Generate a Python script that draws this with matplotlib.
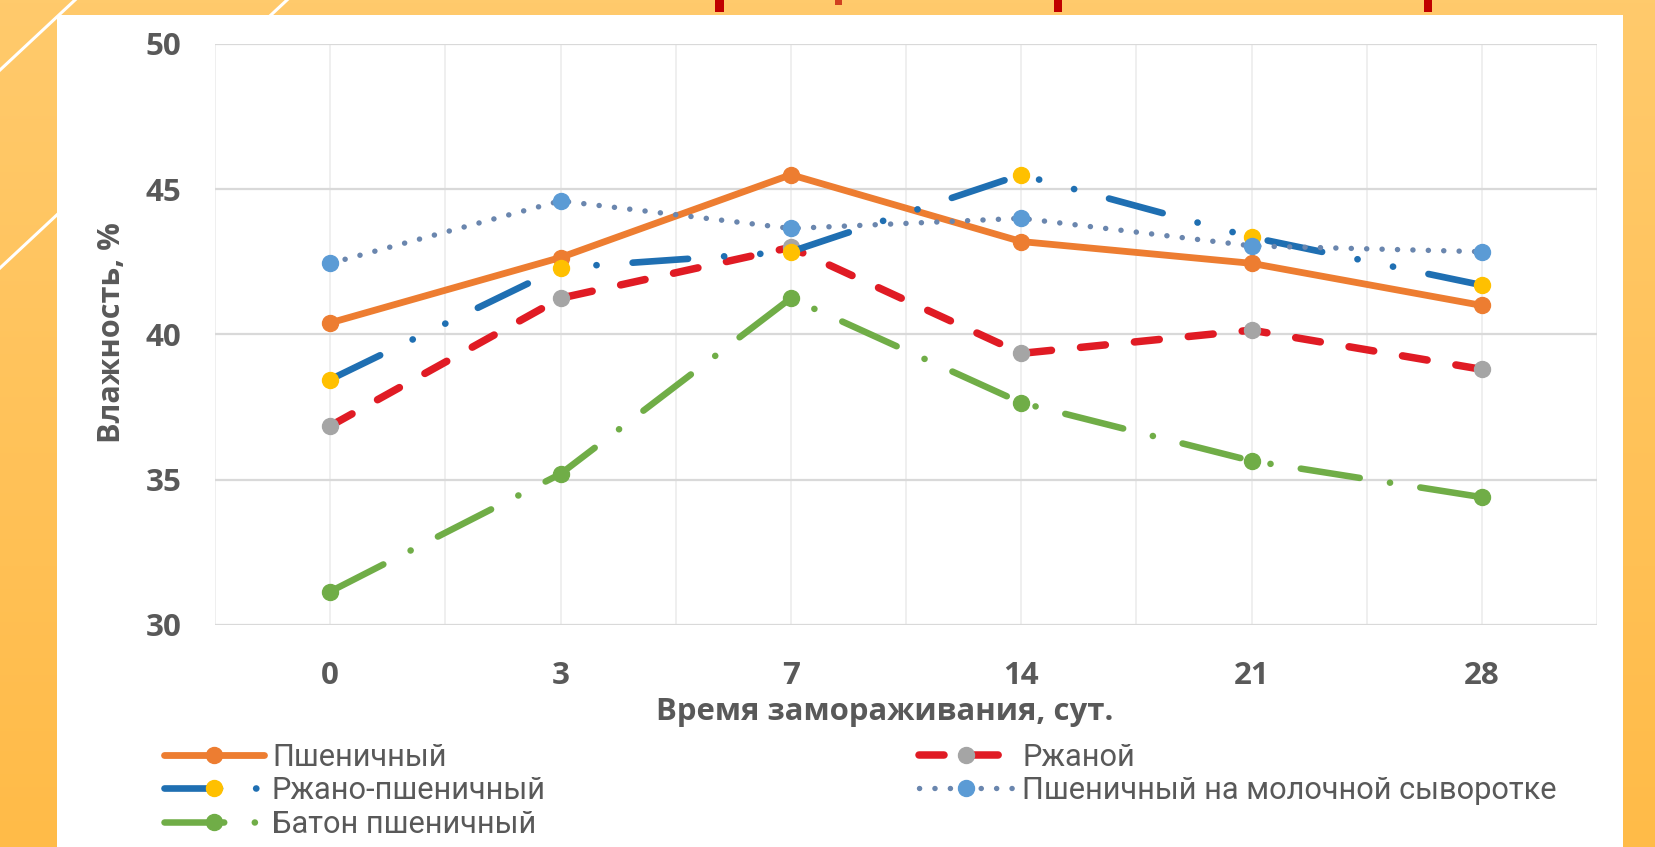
import numpy as np
import matplotlib
matplotlib.use('Agg')
import matplotlib.pyplot as plt
from matplotlib.lines import Line2D
from matplotlib.patches import Rectangle
from matplotlib.colors import LinearSegmentedColormap
from matplotlib.font_manager import FontProperties

# ---------------- data ----------------
categories = ['0', '3', '7', '14', '21', '28']
wheat = [40.4, 42.65, 45.5, 43.2, 42.45, 41.0]
rye = [36.85, 41.25, 43.0, 39.35, 40.15, 38.8]
rye_wheat = [38.45, 42.3, 42.85, 45.5, 43.35, 41.7]
whey_wheat = [42.45, 44.6, 43.65, 44.0, 43.05, 42.85]
baton = [31.15, 35.2, 41.25, 37.65, 35.65, 34.4]
series_names = ['Пшеничный', 'Ржаной', 'Ржано-пшеничный',
                'Пшеничный на молочной сыворотке', 'Батон пшеничный']
y_ticks = [30, 35, 40, 45, 50]
x_label = 'Время замораживания, сут.'
y_label = 'Влажность, %'

# ---------------- figure ----------------
W, H, DPI = 1655, 847, 100
plt.rcParams['lines.scale_dashes'] = False
fig = plt.figure(figsize=(W / DPI, H / DPI), dpi=DPI)
TXT = '#595959'


def fx(px):
    return px / W


def fy(py):
    return 1 - py / H


# background (orange slide with white panel)
bg = fig.add_axes([0, 0, 1, 1], zorder=-10)
cmap = LinearSegmentedColormap.from_list('o', ['#FFCA6C', '#FFBB48'])
bg.imshow(np.linspace(0, 1, 256).reshape(-1, 1), extent=[0, W, H, 0],
          cmap=cmap, aspect='auto', zorder=0)
bg.set_xlim(0, W)
bg.set_ylim(H, 0)
bg.axis('off')
bg.plot([0, 75], [70, 0], color='white', lw=2.2, zorder=1)
bg.plot([0, 287], [268, 0], color='white', lw=2.2, zorder=1)
bg.add_patch(Rectangle((57, 15), 1566, 840, facecolor='white', edgecolor='none', zorder=2))
for (rx, rw, rh, rc) in [(715, 9, 12, '#C00000'), (835, 7, 5, '#D04020'),
                         (1054, 8, 12, '#C00000'), (1424, 8, 12, '#C00000')]:
    bg.add_patch(Rectangle((rx, 0), rw, rh, facecolor=rc, edgecolor='none', zorder=3))

# main axes
ax = fig.add_axes([fx(215), fy(625), (1597 - 215) / W, (625 - 44) / H])
ax.patch.set_alpha(0)
x = np.arange(len(categories))
ax.set_xlim(x[0] - 0.5, x[-1] + 0.5)
ax.set_ylim(y_ticks[0], y_ticks[-1])
for s in ax.spines.values():
    s.set_visible(False)
for v in np.arange(x[0] - 0.5, x[-1] + 0.51, 0.5):
    ax.axvline(v, color='#ececec', lw=1.2, zorder=0)
for v in y_ticks:
    ax.axhline(v, color='#d9d9d9', lw=1.6, zorder=1)

ax.set_xticks(x, categories)
ax.set_yticks(y_ticks)
ax.tick_params(axis='both', length=0, colors=TXT)
ax.tick_params(axis='x', pad=26)
ax.tick_params(axis='y', pad=24)
for lab in ax.get_xticklabels() + ax.get_yticklabels():
    lab.set_fontfamily('Open Sans')
    lab.set_fontweight('bold')
    lab.set_fontsize(22.5)
    lab.set_color(TXT)

styles = [
    dict(color='#ED7D31', lw=4.9, mfc='#ED7D31', dashes=None),
    dict(color='#E01B24', lw=5.4, mfc='#A5A5A5', dashes=(18, 21)),
    dict(color='#1F6FB2', lw=4.8, mfc='#FFC000',
         dashes=(40, 26, 0.1, 26, 0.1, 26)),
    dict(color='#6A86AE', lw=3.9, mfc='#5B9BD5', dashes=(0.1, 11.0)),
    dict(color='#70AD47', lw=4.7, mfc='#70AD47', dashes=(43, 22, 0.1, 22)),
]
data = [wheat, rye, rye_wheat, whey_wheat, baton]
handles = []
for i, (vals, st, name) in enumerate(zip(data, styles, series_names)):
    kw = dict(color=st['color'], lw=st['lw'], marker='o', markersize=11.5,
              markerfacecolor=st['mfc'], markeredgecolor=st['mfc'],
              solid_capstyle='round', dash_capstyle='round', zorder=3 + i)
    line, = ax.plot(x, vals, **kw)
    if st['dashes'] is not None:
        line.set_dashes(st['dashes'])
    h = Line2D([], [], **kw)
    if st['dashes'] is not None:
        h.set_dashes(st['dashes'])
    handles.append(h)

# axis titles
xl = fig.text(fx(885), fy(712), x_label, ha='center', va='center',
              family='Open Sans', weight='bold', size=17, color=TXT)
yl = fig.text(fx(112), fy(333), y_label, ha='center', va='center', rotation=90,
              family='Open Sans', weight='bold', size=17, color=TXT)

fig.canvas.draw()
r = fig.canvas.get_renderer()
for _ in range(3):
    w = xl.get_window_extent(r).width
    xl.set_fontsize(xl.get_fontsize() * 460 / w)
    hgt = yl.get_window_extent(r).height
    yl.set_fontsize(yl.get_fontsize() * 220 / hgt)

# legend font fit
leg_family = ['Liberation Sans Narrow', 'Roboto', 'DejaVu Sans']
tmp = fig.text(0, 0, series_names[3], family=leg_family, size=18)
for _ in range(3):
    w = tmp.get_window_extent(r).width
    tmp.set_fontsize(tmp.get_fontsize() * 535 / w)
leg_size = tmp.get_fontsize()
tmp.remove()
fp = FontProperties(family=leg_family, size=leg_size)

col1 = [0, 2, 4]
col2 = [1, 3]
hl = 72 / leg_size * 1.0     # ~100 px handle
htp = 6 / leg_size


def make_leg(idx, anchor, ls, hlen):
    lg = fig.legend([handles[i] for i in idx], [series_names[i] for i in idx],
                    loc='upper left', bbox_to_anchor=anchor, frameon=False,
                    borderpad=0, borderaxespad=0, handlelength=hlen,
                    handletextpad=htp, labelspacing=ls, prop=fp,
                    labelcolor=TXT)
    return lg


ls = 0.3
targets = [(col1, 272, 757, hl), (col2, 1022, 757, hl * 0.95)]
legs = []
for idx, tx, ty, hlen in targets:
    lg = make_leg(idx, (fx(160), fy(740)), ls, hlen)
    fig.canvas.draw()
    t = lg.get_texts()
    b0 = t[0].get_window_extent(r)
    b1 = t[1].get_window_extent(r)
    spacing = ((b0.y0 + b0.y1) - (b1.y0 + b1.y1)) / 2
    new_ls = ls + (33.5 - spacing) / (leg_size * DPI / 72)
    lg.remove()
    lg = make_leg(idx, (fx(160), fy(740)), new_ls, hlen)
    fig.canvas.draw()
    b0 = lg.get_texts()[0].get_window_extent(r)
    dx = tx - b0.x0
    dy = (H - ty) - (b0.y0 + b0.y1) / 2
    lg.remove()
    lg = make_leg(idx, (fx(160) + dx / W, fy(740) + dy / H), new_ls, hlen)
    legs.append(lg)

fig.savefig('out.png', dpi=DPI)
